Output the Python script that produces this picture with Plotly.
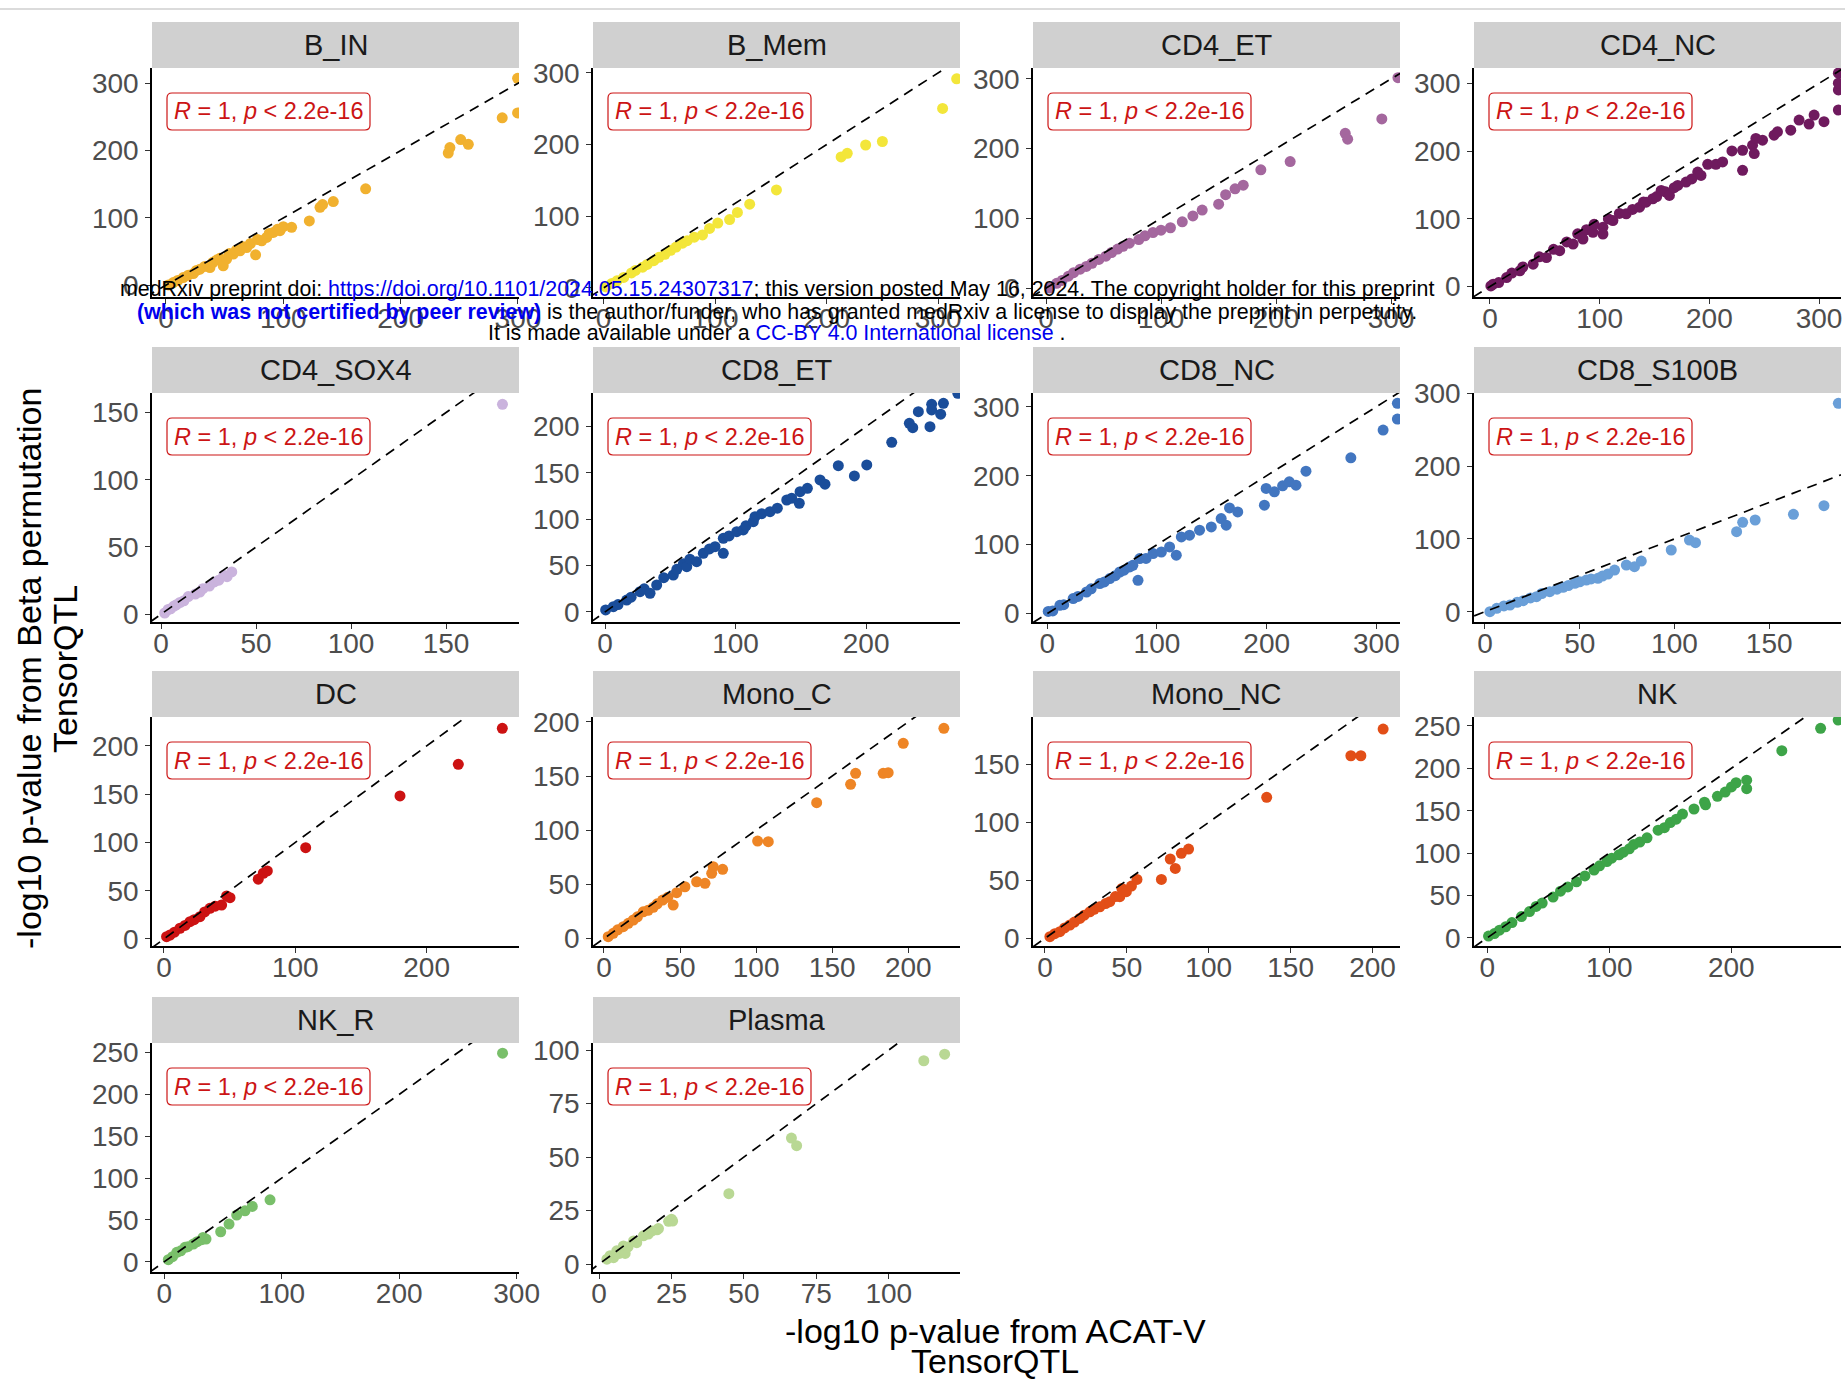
import plotly.graph_objects as go

# ---- data: -log10 p from ACAT-V (x) vs Beta permutation (y), per cell type ----
cell_types = ["B_IN", "B_Mem", "CD4_ET", "CD4_NC", "CD4_SOX4", "CD8_ET", "CD8_NC",
              "CD8_S100B", "DC", "Mono_C", "Mono_NC", "NK", "NK_R", "Plasma"]

b_in_x = [2, 6.2, 10, 14.7, 19, 23.3, 26, 29, 33, 37.5, 40, 43.2, 46, 48.8, 51.7, 54, 57.4, 60, 63.1,
          66, 68.8, 72, 76.4, 78, 81.6, 85.8, 88, 91.5, 95, 97.2, 100, 107.1, 122.2, 131.3, 133.5,
          142.6, 170.2, 240.6, 242, 251.2, 257.7, 286.6, 299.7, 299.7]
b_in_y = [0.5, 3.9, 7, 11.3, 15, 17.3, 22, 23.9, 28, 26.3, 34, 37.3, 40, 28.8, 38.8, 47, 46.3, 52, 51.2,
          57, 56, 62, 45.2, 68, 66, 71, 77, 78.5, 83, 81, 87, 86, 95.5, 115.8, 119.9,
          124.3, 143.3, 196.4, 204.5, 216.4, 209.4, 248.7, 256, 307.5]

b_mem_x = [2.1, 7.4, 12, 18, 25, 28.5, 35, 39.1, 45, 49.7, 55, 60.2, 65, 70.8, 75, 81.3, 88.7, 95,
           102.4, 113, 120, 131, 155, 213, 218.5, 235, 250, 304, 316.6]
b_mem_y = [1.4, 6.4, 10, 14.7, 21, 24.5, 29, 32.8, 38, 42.7, 47, 52.5, 57, 62.5, 66, 70.8, 74, 83,
           90.5, 95.4, 105.4, 116.9, 136.7, 182.8, 187.8, 199.4, 204.3, 250.4, 291.7]

cd4_et_x = [3.1, 9.3, 14, 19.5, 24, 29.7, 35, 40, 46, 52.1, 57, 62.3, 67, 72.5, 80.7, 86, 93, 100,
            108.2, 118.5, 127.7, 135.8, 150.1, 156.2, 164.4, 171.5, 186.8, 212.3, 260.2, 262.3,
            292, 306]
cd4_et_y = [0.1, 6.8, 11, 17, 22, 27.1, 31, 35.6, 41, 45.8, 51, 55.9, 60, 64.4, 69.5, 75, 79.7, 83,
            86.5, 95, 103.4, 111.8, 120.3, 133.9, 142.4, 147.5, 169.6, 181.4, 222, 213.5,
            242.5, 301.7]

cd4_nc_x = [0.9, 3, 8, 15.2, 20, 27.3, 30, 39.4, 45, 51.5, 58, 63.6, 70, 75.8, 80, 84.8, 88, 93.9,
            95, 103, 103, 108, 112.1, 118, 124.2, 130, 136.4, 140, 142.4, 148.5, 152, 156.1, 160,
            163.6, 168, 171.2, 178.8, 184, 189.4, 192.4, 198.5, 206, 212.1, 220.6, 230.3, 230.3,
            239.4, 240.9, 242.4, 248.5, 259, 262.1, 274.2, 281.8, 290.9, 295.5, 304.5, 317.6,
            317.6, 317.6, 317.6]
cd4_nc_y = [1, 3.6, 6, 13.4, 20, 23.3, 29, 33.2, 44, 43, 55, 53, 66, 62.9, 78, 70.3, 84, 80.1,
            92, 87.5, 77.7, 100, 97.5, 108, 107.4, 114, 117.2, 125, 124.6, 129.7, 133, 142, 140,
            134.6, 146, 149.4, 154.3, 159, 169.1, 164.2, 180.6, 180.6, 184, 200.3, 201.3, 171.7,
            208.8, 196.4, 218.7, 216.2, 223.6, 228.5, 231, 245.8, 240, 253.3, 243.4, 260.7,
            290.4, 300.3, 315.1]

cd4_sox4_x = [1.9, 3.7, 5, 6.8, 8, 9.9, 12, 14.3, 18, 20.4, 22, 25.4, 28, 30.4, 33, 34.7, 37.2, 179.7]
cd4_sox4_y = [0.9, 3.5, 4, 6.1, 7, 8.7, 10, 13.1, 15, 16.5, 19, 20.9, 24, 25.3, 29, 27.9, 31.4, 156.1]

cd8_et_x = [0.5, 6.4, 10, 16.6, 20, 26.8, 30, 34.5, 39.6, 45, 52.3, 55, 60, 62.6, 65, 70.2, 75.3, 80,
            84.3, 90.6, 90.6, 95, 100.9, 105.9, 108, 113.6, 114.9, 120, 126.4, 132, 139.2, 143,
            148.8, 149.4, 155, 164.7, 168.5, 178.7, 191, 200.5, 219.6, 233.1, 235.7, 240, 248.9,
            250.2, 250.2, 257.1, 259.2, 270.2]
cd8_et_y = [2.2, 5.7, 8, 12.9, 16, 21.9, 25, 20.2, 29.1, 37, 39.9, 46, 52, 48.9, 57, 54.3, 63.3, 68,
            70.4, 79.5, 63.3, 82, 86.6, 88.5, 93, 97.4, 102.8, 106, 108.2, 112, 120.8, 122.7,
            117.3, 129.8, 133.4, 142.4, 137.8, 157.8, 146.7, 158.6, 183, 203.5, 198.8, 216.1, 199.9,
            224, 217.9, 213.3, 225.1, 235.8]

cd8_nc_x = [0.9, 5, 11.5, 15, 23.6, 28, 35.8, 40, 47.9, 52, 57, 62, 66.1, 70, 75.2, 78, 82.7, 84.3,
            90, 96.4, 104, 111.5, 117.6, 122.2, 129.7, 138.8, 149.5, 158.5, 163.1, 166.1, 173.6,
            197.9, 199.5, 207, 214.5, 220.6, 226.7, 235.8, 276.7, 306.1, 319.1, 319.1]
cd8_nc_y = [3.3, 4, 12.1, 13, 21.8, 25, 31.4, 36, 43.6, 46, 50.8, 55, 60.4, 63, 67.7, 70, 48.4, 79.9,
            80, 87.1, 89.4, 96.7, 84.7, 111.3, 113.7, 121, 125.7, 137.9, 128.2, 153.3, 147.5,
            157.3, 181.5, 176.6, 185.3, 191.1, 186.3, 206.6, 226, 266.2, 282.1, 304.9]

cd8_s100b_x = [2.6, 6.2, 10, 13.2, 17, 20.2, 24, 27.2, 30, 34.2, 38, 41.2, 44, 47.4, 50, 53.5, 56,
               59.6, 62, 64.9, 68.4, 74.6, 78.9, 82.5, 98.3, 107.9, 111.1, 132.8, 136, 142.6,
               162.8, 178.9, 186.5]
cd8_s100b_y = [0, 4.7, 8, 9.2, 13, 15.1, 19, 20.6, 25, 27.5, 31, 33.5, 36, 39, 41, 43.5, 45,
               45.8, 49, 51.8, 57.2, 64.1, 61.8, 69.6, 84.7, 98.4, 94.7, 109.8, 122.7, 125.9,
               133.7, 145.5, 286]

dc_x = [2, 4.6, 8, 12.2, 16, 19.8, 23, 27.4, 31, 35, 39, 43.9, 47.7, 50.3, 71.8, 75.6, 78.7, 107.9,
        179.7, 224.1, 257.6]
dc_y = [2.4, 4.1, 7, 11.1, 14, 17.9, 20, 23.1, 28, 31.8, 34, 35.2, 44.6, 42.8, 61.9, 68.1, 70.5, 94.6,
        148.2, 181, 218.3]

mono_c_x = [2.8, 6.1, 9, 12.7, 16, 19.3, 22, 25.8, 29, 32.4, 35, 38.6, 42, 45.5, 47.8, 53.2, 60.9,
            66.4, 70.8, 71.8, 78, 101, 108, 139.8, 162.1, 165.4, 183.5, 186.8, 196.7, 223.4]
mono_c_y = [1.7, 4.8, 8, 10.9, 14, 17.1, 20, 24.7, 26, 28.8, 32, 35.5, 38, 30.9, 42.3, 47.8, 52.4,
            51, 60.2, 66.3, 63.9, 90, 89.4, 125.4, 142.4, 152.5, 152.5, 153.1, 180.2, 194.1]

mono_nc_x = [3, 6, 9.1, 12, 15.2, 18, 21.3, 24, 27.4, 30, 33.5, 37, 39.6, 43, 45.7, 47, 49.7, 52.8,
             56.2, 71.1, 76.5, 79.6, 83.3, 87.7, 135.4, 186.8, 192.9, 206.5]
mono_nc_y = [1.4, 4, 5.7, 9, 11.5, 14, 17.2, 20, 22.9, 25, 27.2, 30, 31.6, 36, 35.9, 43, 40.2, 45.1,
             50.8, 50.8, 68.4, 60.3, 73.3, 77, 121.6, 157.4, 157.4, 180.4]

nk_x = [1, 5.8, 10, 15, 20.2, 28, 34.6, 40, 45, 53.9, 60, 66, 73.1, 80, 87.5, 92, 98, 102, 108, 111.6,
        116.4, 120, 125, 130.9, 140, 145.2, 150, 154.9, 160, 169.4, 178, 178.9, 188.6, 195, 200.1,
        203.9, 212.6, 212.6, 241.4, 273.2, 287.6]
nk_y = [2, 5, 9, 13, 18, 25, 31, 37, 41, 48, 55, 60, 66, 73, 80, 85, 90, 94, 98, 101,
        105, 110, 113, 118, 127, 130, 136, 140, 146, 152, 160, 157, 167, 172, 178,
        183, 186, 176, 220.8, 247.2, 257]

nk_r_x = [3.4, 7, 10.6, 14, 17.6, 20, 24.7, 28, 31.8, 33, 35.5, 48, 55.1, 61.6, 68.7, 74.9, 90, 288]
nk_r_y = [2.4, 6, 11.2, 13, 17.2, 18, 21.1, 24, 26.3, 29, 27.1, 35.8, 45, 55.8, 60.9, 66.1, 74, 249.2]

plasma_x = [2.7, 3.8, 5, 6.1, 7, 8.4, 9, 10, 11.9, 13, 15.3, 17, 18.3, 20, 20.5, 24, 25.4, 25, 44.8,
            66.4, 68.2, 112.1, 119.3]
plasma_y = [2.3, 3.9, 3, 6.2, 5, 8.5, 5, 8, 10.8, 10, 13.2, 14, 15.5, 16, 16.6, 20, 20.1, 21, 32.9,
            58.9, 55.3, 95, 98.1]

series = [(b_in_x, b_in_y), (b_mem_x, b_mem_y), (cd4_et_x, cd4_et_y), (cd4_nc_x, cd4_nc_y),
          (cd4_sox4_x, cd4_sox4_y), (cd8_et_x, cd8_et_y), (cd8_nc_x, cd8_nc_y),
          (cd8_s100b_x, cd8_s100b_y), (dc_x, dc_y), (mono_c_x, mono_c_y),
          (mono_nc_x, mono_nc_y), (nk_x, nk_y), (nk_r_x, nk_r_y), (plasma_x, plasma_y)]

stat_label = "<i>R</i> = 1, <i>p</i> &lt; 2.2e-16"

# ---- styling ----
point_colors = ["#F1B12F", "#F3E63A", "#A4679E", "#6F1A5E", "#CAB3DD", "#1A4D9A", "#4276C0",
                "#6A9FD8", "#CC1212", "#EE8525", "#E24E17", "#3DA448", "#79BF6A", "#B9D894"]

x_ranges = [[-11.9, 300.9], [-9.5, 319.6], [-11.3, 307.8], [-14.5, 320.0], [-4.8, 188.4],
            [-9.2, 271.9], [-13.0, 321.5], [-5.8, 187.9], [-9.1, 270.3], [-7.2, 234.0],
            [-7.3, 216.8], [-10.9, 289.9], [-10.5, 302.0], [-2.1, 124.6]]
y_ranges = [[-17.5, 322.8], [-12.6, 306.8], [-12.8, 315.6], [-15.3, 322.7], [-5.8, 164.5],
            [-10.8, 236.2], [-12.1, 319.9], [-14.1, 300.2], [-7.3, 230.0], [-6.9, 204.5],
            [-6.6, 190.8], [-9.7, 260.6], [-12.3, 261.4], [-3.7, 103.3]]
x_dticks = [100, 100, 100, 100, 50, 100, 100, 50, 100, 50, 50, 100, 100, 25]
y_dticks = [100, 100, 100, 100, 50, 50, 100, 100, 50, 50, 50, 50, 50, 25]

W, H = 1845, 1382
col_left = [152, 593, 1033, 1474]
row_top = [68, 393, 717, 1043]
panel_w, panel_h, strip_h = 367, 229, 46

# rounded label box inside each panel (px from the panel's top-left corner)
box_l, box_r, box_t, box_b, box_rad = 15, 218, 25, 62, 5

FONT = "Liberation Sans, Arial, sans-serif"
STAT_RED = "#CC1414"


def rounded_box_path():
    x0, x1 = box_l / panel_w, box_r / panel_w
    y1, y0 = 1 - box_t / panel_h, 1 - box_b / panel_h
    rx, ry = box_rad / panel_w, box_rad / panel_h
    return (f"M {x0 + rx} {y1} L {x1 - rx} {y1} Q {x1} {y1} {x1} {y1 - ry} "
            f"L {x1} {y0 + ry} Q {x1} {y0} {x1 - rx} {y0} L {x0 + rx} {y0} "
            f"Q {x0} {y0} {x0} {y0 + ry} L {x0} {y1 - ry} Q {x0} {y1} {x0 + rx} {y1} Z")


fig = go.Figure()
layout = dict(width=W, height=H, autosize=False, margin=dict(l=0, r=0, t=0, b=0, pad=0,
                                                             autoexpand=False),
              paper_bgcolor="white", plot_bgcolor="white", showlegend=False,
              font=dict(family=FONT))
shapes, annotations = [], []
box_path = rounded_box_path()

for i, name in enumerate(cell_types):
    n = i + 1
    sfx = "" if n == 1 else str(n)
    r, c = divmod(i, 4)
    x0 = col_left[c]
    y0 = row_top[r]
    xd = [x0 / W, (x0 + panel_w) / W]
    yd = [1 - (y0 + panel_h) / H, 1 - y0 / H]

    axis_common = dict(showgrid=False, zeroline=False, showline=True, linecolor="black",
                       linewidth=1.5, ticks="outside", ticklen=5, tickwidth=1.3,
                       tickcolor="#333333", tickmode="linear", tick0=0,
                       tickfont=dict(family=FONT, size=28, color="#4D4D4D"),
                       fixedrange=True, automargin=False)
    layout["xaxis" + sfx] = dict(axis_common, domain=xd, range=x_ranges[i], dtick=x_dticks[i],
                                 anchor="y" + sfx, ticklabelstandoff=-9)
    layout["yaxis" + sfx] = dict(axis_common, domain=yd, range=y_ranges[i], dtick=y_dticks[i],
                                 anchor="x" + sfx, ticklabelstandoff=1)

    xs, ys = series[i]
    fig.add_trace(go.Scatter(x=xs, y=ys, mode="markers", xaxis="x" + sfx, yaxis="y" + sfx,
                             marker=dict(size=11, color=point_colors[i], line=dict(width=0)),
                             hoverinfo="x+y"))
    # identity line y = x spanning the panel
    lo = min(x_ranges[i][0], y_ranges[i][0])
    hi = max(x_ranges[i][1], y_ranges[i][1])
    fig.add_trace(go.Scatter(x=[lo, hi], y=[lo, hi], mode="lines", xaxis="x" + sfx,
                             yaxis="y" + sfx, hoverinfo="skip",
                             line=dict(color="black", width=1.7, dash="10px,7px")))

    # facet strip
    shapes.append(dict(type="rect", xref="paper", yref="paper", x0=xd[0], x1=xd[1],
                       y0=yd[1], y1=1 - (y0 - strip_h) / H, fillcolor="#D0D0D0",
                       line=dict(width=0), layer="below"))
    annotations.append(dict(text=name, xref="paper", yref="paper",
                            x=(xd[0] + xd[1]) / 2, y=1 - (y0 - strip_h / 2) / H,
                            xanchor="center", yanchor="middle", showarrow=False,
                            font=dict(family=FONT, size=29, color="#1A1A1A")))
    # correlation label in a rounded box
    shapes.append(dict(type="path", xref="x" + sfx + " domain", yref="y" + sfx + " domain",
                       path=box_path, fillcolor="white",
                       line=dict(color=STAT_RED, width=1.2), layer="above"))
    annotations.append(dict(text=stat_label, xref="x" + sfx + " domain",
                            yref="y" + sfx + " domain",
                            x=(box_l + box_r) / 2 / panel_w,
                            y=1 - (box_t + box_b) / 2 / panel_h,
                            xanchor="center", yanchor="middle", showarrow=False,
                            font=dict(family=FONT, size=23.5, color=STAT_RED)))

# axis titles
annotations += [
    dict(text="-log10 p-value from ACAT-V", xref="paper", yref="paper", x=995 / W,
         y=1 - 1331 / H, xanchor="center", yanchor="middle", showarrow=False,
         font=dict(family=FONT, size=34, color="black")),
    dict(text="TensorQTL", xref="paper", yref="paper", x=995 / W, y=0,
         xanchor="center", yanchor="bottom", showarrow=False,
         font=dict(family=FONT, size=34, color="black")),
    dict(text="-log10 p-value from Beta permutation", xref="paper", yref="paper", x=29 / W,
         y=1 - 669 / H, xanchor="center", yanchor="middle", showarrow=False, textangle=-90,
         font=dict(family=FONT, size=34, color="black")),
    dict(text="TensorQTL", xref="paper", yref="paper", x=65 / W, y=1 - 669 / H,
         xanchor="center", yanchor="middle", showarrow=False, textangle=-90,
         font=dict(family=FONT, size=34, color="black")),
]

# preprint notice
LINK = "#0000EE"
notice = [
    ("medRxiv preprint doi: <span style='color:%s'>https://doi.org/10.1101/2024.05.15.24307317</span>; "
     "this version posted May 16, 2024. The copyright holder for this preprint" % LINK, 289),
    ("<b><span style='color:%s'>(which was not certified by peer review)</span></b> is the "
     "author/funder, who has granted medRxiv a license to display the preprint in perpetuity." % LINK,
     312),
    ("It is made available under a <span style='color:%s'>CC-BY 4.0 International license</span> ."
     % LINK, 333),
]
for txt, yc in notice:
    annotations.append(dict(text=txt, xref="paper", yref="paper", x=777 / W, y=1 - yc / H,
                            xanchor="center", yanchor="middle", showarrow=False,
                            font=dict(family=FONT, size=21.4, color="black")))

shapes.append(dict(type="line", xref="paper", yref="paper", x0=0, x1=1,
                   y0=1 - 9 / H, y1=1 - 9 / H, line=dict(color="#CFCFCF", width=1.5)))

layout["shapes"] = shapes
layout["annotations"] = annotations
fig.update_layout(**layout)

# pin the graph to the top-left corner of the page
pin_page = (
    "var de=document.documentElement, b=document.body;"
    "de.style.margin='0'; de.style.padding='0'; de.style.overflow='hidden';"
    "b.style.margin='0'; b.style.padding='0'; b.style.overflow='hidden';"
    "var g=document.getElementById('{plot_id}');"
    "g.style.position='fixed'; g.style.left='0px'; g.style.top='0px';"
)
fig.write_html("out.html", config={"responsive": False}, post_script=pin_page)
